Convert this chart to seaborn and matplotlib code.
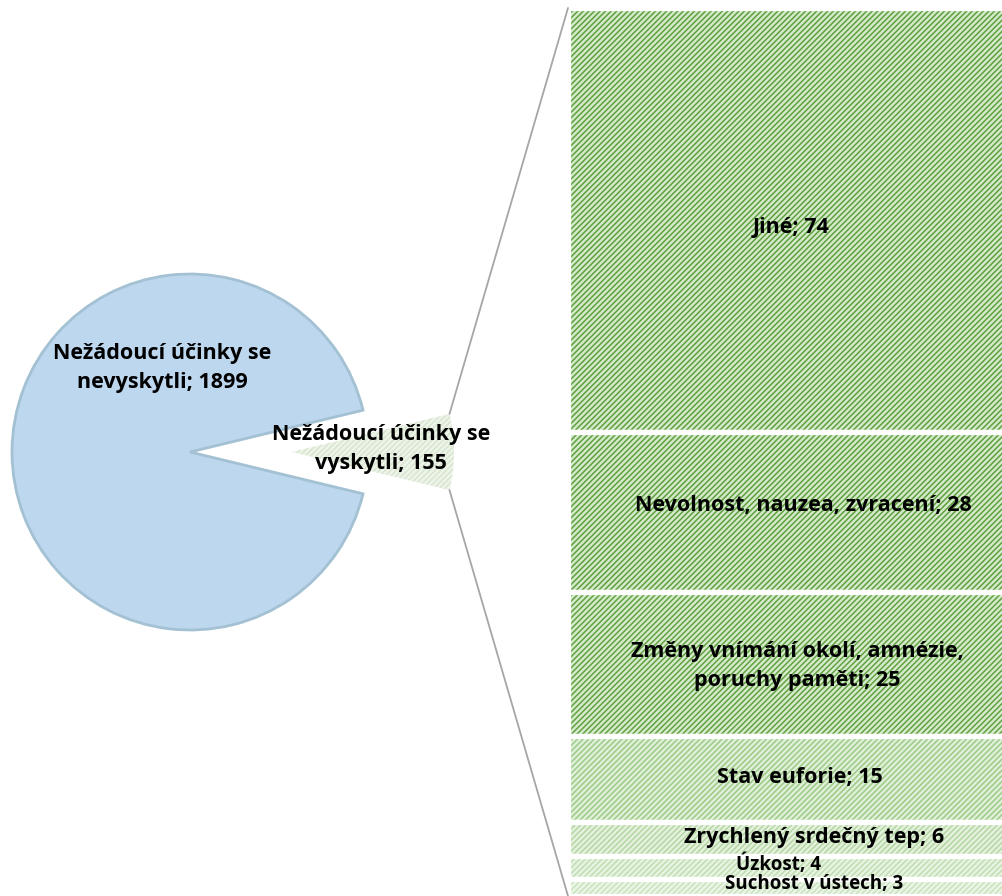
import numpy as np
import matplotlib.pyplot as plt
from matplotlib.patches import ConnectionPatch
import seaborn as sns

sns.set_theme(style="white")
plt.rcParams['font.family'] = ['Open Sans', 'DejaVu Sans']
plt.rcParams['hatch.linewidth'] = 1.1

# data
pie_labels = ["Nežádoucí účinky se\nnevyskytli", "Nežádoucí účinky se\nvyskytli"]
pie_values = [1899, 155]
bar_labels = ["Jiné", "Nevolnost, nauzea, zvracení", "Změny vnímání okolí, amnézie,\nporuchy paměti",
              "Stav euforie", "Zrychlený srdečný tep", "Úzkost", "Suchost v ústech"]
bar_values = [74, 28, 25, 15, 6, 4, 3]

W, H = 1003, 896
fig = plt.figure(figsize=(W / 100, H / 100), dpi=100)

# pie part, axes in pixel units (y up)
ax = fig.add_axes([0, 0, 1, 1])
cx, cy, r = 190, H - 452, 178
expl, r_small = 102, 162
share = pie_values[1] / sum(pie_values)
start = 180 * share
wedges, _ = ax.pie(pie_values, center=(cx, cy), radius=r, startangle=start,
                   explode=[0, expl], colors=["#bdd7ee", "#eef4ea"],
                   wedgeprops=dict(linewidth=0))
wedges[0].set_edgecolor("#a3c1d3")
wedges[0].set_linewidth(2)
wedges[1].set_radius(r_small)
wedges[1].set_hatch("//////")
wedges[1].set_edgecolor("#d8e6d0")
wedges[1].set_linewidth(0)
ax.set_xlim(0, W)
ax.set_ylim(0, H)
ax.set_aspect("equal")
ax.axis("off")

ax.text(162, H - 368, f"{pie_labels[0]}; {pie_values[0]}", ha="center", va="center",
        fontsize=15.5, fontweight="bold", color="black", linespacing=1.45)
ax.text(381, H - 449, f"{pie_labels[1]}; {pie_values[1]}", ha="center", va="center",
        fontsize=15.5, fontweight="bold", color="black", linespacing=1.45)

# bar part
bar_left, bar_right = 568, 1032
ax_bar = fig.add_axes([bar_left / W, 0, (bar_right - bar_left) / W, (H - 8) / H])
total = sum(bar_values)
stripe_cols = sns.color_palette(["#5f9f41", "#5f9f41", "#62a144", "#9ccb88", "#b3d7a3", "#bfdeb1", "#c8e3bc"])
face_cols = ["#d4eac8", "#d4eac8", "#d6ebca", "#e0efd7", "#e5f1dd", "#e8f3e2", "#ebf5e7"]
bottoms = total - np.cumsum(bar_values)
for val, b, sc, fc in zip(bar_values, bottoms, stripe_cols, face_cols):
    ax_bar.bar(0, val, bottom=b, width=1, color=fc, hatch="//////", edgecolor=sc, linewidth=0)
    ax_bar.bar(0, val, bottom=b, width=1, color="none", edgecolor="white", linewidth=3.8)
ax_bar.set_xlim(-0.5, 0.5)
ax_bar.set_ylim(0, total)
ax_bar.axis("off")

# small nudges of label placement (pixels, positive = up); the two thin
# bottom segments get a slightly smaller font so their labels do not collide
dx_px = [-9, 3, -3, 0, 14, -22, 14]
dy_px = [-8, 7, -2, 1, 1, 3, 3]
sizes = [15.5, 15.5, 15.5, 15.5, 15.5, 13.5, 13.5]
pxw = bar_right - bar_left
pxh = (H - 8) / total
for lab, val, b, dx, dy, fs in zip(bar_labels, bar_values, bottoms, dx_px, dy_px, sizes):
    y = b + val / 2 + dy / pxh
    ax_bar.text(dx / pxw, y, f"{lab}; {val}", ha="center", va="center", fontsize=fs,
                fontweight="bold", color="black", linespacing=1.45)

# connector lines between exploded slice and bar
th = np.deg2rad(180 * share)
ex = cx + expl
top_pt = (ex + r_small * np.cos(th), cy + r_small * np.sin(th))
bot_pt = (ex + r_small * np.cos(th), cy - r_small * np.sin(th))
for pt, by in [(top_pt, total), (bot_pt, 0)]:
    con = ConnectionPatch(xyA=pt, coordsA=ax.transData, xyB=(-0.5, by), coordsB=ax_bar.transData,
                          color="#a6a6a6", linewidth=1.3)
    fig.add_artist(con)

fig.savefig("out.png", dpi=100)
